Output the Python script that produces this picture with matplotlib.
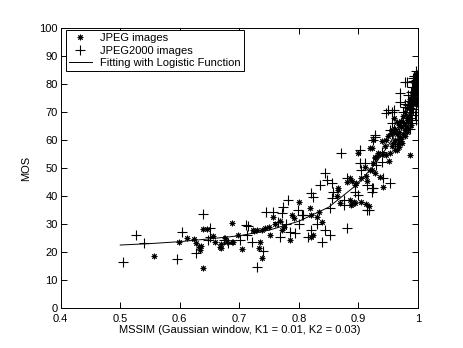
import numpy as np
import matplotlib
matplotlib.use("Agg")
import matplotlib.pyplot as plt

plt.rcParams['font.family'] = ['Liberation Sans', 'DejaVu Sans']
plt.rcParams['font.size'] = 8

# JPEG images (asterisk markers)
jpeg_x = [0.557, 0.599, 0.612, 0.639, 0.645, 0.628, 0.624, 0.632, 0.634, 0.636,
          0.639, 0.656, 0.659, 0.667, 0.670, 0.670, 0.676, 0.679, 0.687, 0.687,
          0.690, 0.698, 0.704, 0.725, 0.723, 0.735, 0.733, 0.738, 0.729, 0.738,
          0.743, 0.749, 0.757, 0.751, 0.760, 0.768, 0.772, 0.775, 0.788, 0.791,
          0.801, 0.785, 0.819, 0.821, 0.833, 0.830, 0.839, 0.824, 0.821, 0.866,
          0.864, 0.869, 0.886, 0.890, 0.896, 0.905, 0.880, 0.894, 0.886, 0.889,
          0.892, 0.905, 0.888, 0.894, 0.900, 0.919, 0.925, 0.933, 0.928, 0.911,
          0.919, 0.925, 0.922, 0.928, 0.936, 0.942, 0.912, 0.915, 0.922, 0.928,
          0.933, 0.942, 0.947, 0.953, 0.961, 0.964, 0.968, 0.987, 0.947, 0.950,
          0.955, 0.958, 0.962, 0.965, 0.968, 0.972, 0.959, 0.964, 0.968, 0.972,
          0.981, 0.975, 0.978, 0.982, 0.985, 0.987, 0.990, 0.991, 0.993, 0.994,
          0.995, 0.996, 0.997, 0.998, 0.992, 0.994, 0.996, 0.998, 0.999, 0.988,
          0.985, 0.983, 0.980, 0.978, 0.975, 0.972, 0.969, 0.966, 0.962, 0.958,
          0.866, 0.912, 0.918, 0.989, 0.991, 0.993, 0.995, 0.997, 0.999, 0.986,
          0.988, 0.990, 0.992, 0.994, 0.996, 0.998, 0.984, 0.987, 0.989, 0.997,
          0.977, 0.981, 0.979, 0.983, 0.970, 0.974, 0.944, 0.939, 0.956, 0.952]
jpeg_y = [18.6, 23.7, 25.1, 28.1, 28.1, 23.1, 24.5, 21.8, 20.7, 22.0,
          14.2, 25.7, 23.7, 21.9, 23.0, 21.3, 24.9, 23.7, 30.5, 23.7,
          23.7, 26.1, 21.0, 27.6, 27.9, 23.7, 21.3, 17.7, 27.9, 27.9,
          28.5, 29.0, 32.6, 26.1, 30.0, 31.0, 28.0, 29.0, 33.2, 32.0,
          38.0, 24.3, 35.6, 33.2, 34.4, 32.6, 30.8, 26.1, 25.5, 42.1,
          40.0, 37.4, 46.3, 45.5, 44.8, 46.3, 45.1, 43.9, 38.6, 37.0,
          38.0, 38.0, 36.8, 37.4, 55.2, 57.0, 60.0, 55.2, 53.5, 50.5,
          49.3, 51.7, 49.3, 48.1, 46.9, 43.3, 47.0, 45.5, 57.0, 54.0,
          54.5, 55.0, 54.6, 55.5, 56.4, 56.4, 57.5, 54.6, 60.0, 61.5,
          62.5, 63.5, 64.0, 62.0, 63.0, 64.5, 67.8, 66.5, 65.5, 66.8,
          67.8, 68.5, 70.0, 71.5, 73.0, 74.5, 76.0, 77.5, 79.0, 80.5,
          82.0, 83.5, 78.0, 80.0, 73.0, 75.5, 77.0, 82.5, 84.0, 70.0,
          68.5, 66.5, 65.0, 63.5, 62.0, 60.5, 59.5, 58.5, 60.0, 59.0,
          42.7, 37.0, 36.5, 72.0, 74.0, 76.5, 78.5, 81.0, 79.0, 69.0,
          71.0, 73.5, 75.0, 77.5, 80.0, 81.5, 67.0, 68.0, 65.5, 74.0,
          66.0, 63.0, 61.5, 64.0, 61.0, 59.0, 58.0, 59.5, 58.0, 52.5]

# JPEG2000 images (plus markers)
jp2k_x = [0.504, 0.526, 0.540, 0.596, 0.604, 0.639, 0.650, 0.628, 0.648, 0.674,
          0.681, 0.651, 0.701, 0.712, 0.713, 0.714, 0.721, 0.739, 0.729, 0.744,
          0.757, 0.765, 0.774, 0.771, 0.782, 0.799, 0.805, 0.768, 0.785, 0.793,
          0.816, 0.807, 0.824, 0.821, 0.821, 0.844, 0.852, 0.838, 0.852, 0.844,
          0.847, 0.835, 0.855, 0.858, 0.855, 0.870, 0.875, 0.875, 0.880, 0.903,
          0.903, 0.905, 0.914, 0.922, 0.917, 0.880, 0.928, 0.911, 0.930, 0.939,
          0.942, 0.953, 0.925, 0.922, 0.914, 0.928, 0.925, 0.939, 0.953, 0.956,
          0.947, 0.956, 0.950, 0.959, 0.970, 0.978, 0.970, 0.975, 0.978, 0.981,
          0.984, 0.975, 0.980, 0.985, 0.988, 0.990, 0.992, 0.994, 0.996, 0.997,
          0.998, 0.999, 0.993, 0.991, 0.995, 0.997, 0.999, 0.998, 0.990, 0.986,
          0.966, 0.962, 0.960, 0.957, 0.900, 0.895, 0.778, 0.800, 0.830, 0.993,
          0.995, 0.997, 0.999, 0.989, 0.991, 0.996, 0.998, 0.987, 0.983, 0.979]
jp2k_y = [16.5, 26.0, 23.3, 17.6, 27.0, 33.5, 28.7, 19.5, 24.3, 24.3,
          23.1, 25.5, 24.3, 29.6, 26.1, 29.3, 23.7, 20.5, 14.8, 34.4,
          34.4, 30.8, 36.2, 33.8, 38.6, 35.0, 33.2, 25.5, 27.3, 26.7,
          25.5, 33.2, 39.8, 41.0, 27.9, 27.9, 26.1, 23.7, 35.6, 48.1,
          45.7, 43.9, 44.5, 41.5, 39.2, 55.2, 38.6, 36.8, 28.5, 56.4,
          51.7, 49.3, 43.9, 42.7, 35.0, 46.3, 61.8, 51.7, 51.0, 52.2,
          46.3, 44.5, 42.7, 41.5, 35.0, 61.2, 60.0, 55.8, 63.6, 62.0,
          69.5, 70.1, 70.7, 70.7, 76.7, 80.8, 73.7, 70.1, 71.9, 80.8,
          72.5, 66.0, 68.0, 74.0, 77.0, 79.0, 81.0, 83.0, 84.5, 81.5,
          78.5, 76.0, 74.5, 71.0, 69.0, 72.5, 79.5, 83.0, 66.0, 64.0,
          60.5, 58.0, 64.0, 66.0, 40.5, 41.5, 30.0, 30.0, 30.0, 77.0,
          75.0, 70.0, 73.5, 68.0, 82.0, 67.0, 80.5, 71.5, 76.0, 73.0]

# logistic fit curve
fit_x = [0.50, 0.55, 0.60, 0.65, 0.70, 0.75, 0.80, 0.85, 0.90, 0.93, 0.95, 0.97, 0.98, 0.99, 1.00]
fit_y = [22.5, 23.0, 23.7, 24.7, 25.8, 27.8, 31.0, 36.0, 44.5, 52.0, 58.0, 65.0, 69.5, 74.5, 80.0]

fig = plt.figure(figsize=(4.64, 3.48), dpi=100)
ax = fig.add_axes([0.1308, 0.1149, 0.770, 0.8046])

ax.plot(jpeg_x, jpeg_y, linestyle='none', marker=(8, 2, 0), markersize=4,
        markeredgewidth=0.7, color='black', label='JPEG images')
ax.plot(jp2k_x, jp2k_y, linestyle='none', marker='+', markersize=7,
        markeredgewidth=0.8, color='black', label='JPEG2000 images')
ax.plot(fit_x, fit_y, '-', color='black', linewidth=0.7,
        label='Fitting with Logistic Function')

ax.set_xlim(0.4, 1)
ax.set_ylim(0, 100)
ax.set_xticks(np.arange(0.4, 1.01, 0.1))
ax.set_xticklabels(['0.4', '0.5', '0.6', '0.7', '0.8', '0.9', '1'])
ax.set_yticks(np.arange(0, 101, 10))
ax.tick_params(direction='in', top=True, right=True, length=4, width=0.7, pad=2)
ax.tick_params(axis='x', pad=4)
for s in ax.spines.values():
    s.set_linewidth(0.7)

ax.set_xlabel('MSSIM (Gaussian window, K1 = 0.01, K2 = 0.03)', labelpad=1)
ax.set_ylabel('MOS', labelpad=6)

leg = ax.legend(loc='upper left', bbox_to_anchor=(0.015, 0.993), borderaxespad=0,
                fancybox=False, edgecolor='black', framealpha=1, handlelength=2,
                handletextpad=0.8, borderpad=0.3, labelspacing=0.2)
leg.get_frame().set_linewidth(0.7)

fig.savefig('out.png', dpi=100)
